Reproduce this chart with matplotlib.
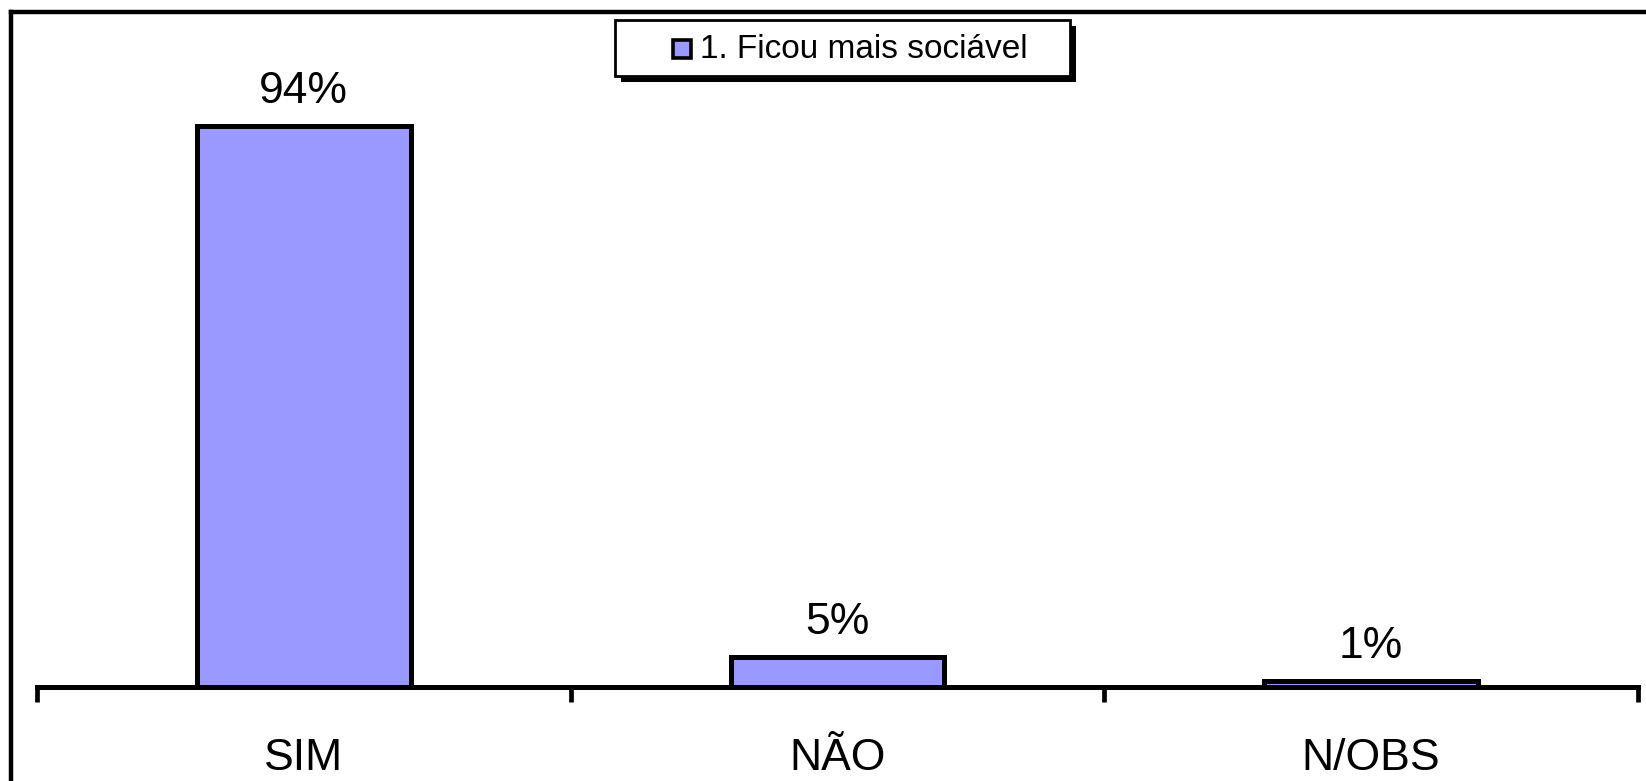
import matplotlib.pyplot as plt
import matplotlib.transforms as mtransforms
from matplotlib.patches import Rectangle
from matplotlib.lines import Line2D

plt.rcParams['font.family'] = ['Liberation Sans', 'DejaVu Sans']

categories = ['SIM', 'NÃO', 'N/OBS']
values = [94, 5, 1]
series_name = '1. Ficou mais sociável'
bar_color = '#9999FF'

W, H = 1646, 781
fig = plt.figure(figsize=(W / 100, H / 100), dpi=100)

# helper: figure pixel (from top-left) -> figure fraction
def fx(x):
    return x / W

def fy(y):
    return 1 - y / H

ax_top, ax_bottom = 90, 687
ax = fig.add_axes([fx(37), fy(ax_bottom), fx(1638) - fx(37), fy(ax_top) - fy(ax_bottom)])

x = list(range(len(categories)))
bars = ax.bar(x, values, width=0.4, color=bar_color, edgecolor='black', linewidth=3.6, zorder=3)

ax.set_xlim(-0.5, len(categories) - 0.5)
ax.set_ylim(0, 100)

for s in ['top', 'right', 'left']:
    ax.spines[s].set_visible(False)
ax.spines['bottom'].set_linewidth(3.6)
ax.spines['bottom'].set_zorder(4)
ax.set_yticks([])

# tick marks at category boundaries, no tick labels (labels placed below by baseline)
ax.set_xticks([i - 0.5 for i in range(len(categories) + 1)])
ax.set_xticklabels([])
ax.tick_params(axis='x', length=11, width=3.4, direction='out')

trans = mtransforms.blended_transform_factory(ax.transData, ax.transAxes)
base_y = (ax_bottom - 770) / (ax_bottom - ax_top)
for xi, cat in zip(x, categories):
    ax.text(xi, base_y, cat, transform=trans, ha='center', va='baseline',
            fontsize=32, clip_on=False)

for b, v in zip(bars, values):
    ax.annotate(f'{v}%', (b.get_x() + b.get_width() / 2, v),
                xytext=(0, 23), textcoords='offset pixels',
                ha='center', va='baseline', fontsize=32)

# legend box with black drop shadow
fig.patches.append(Rectangle((fx(621), fy(82)), fx(1076) - fx(621), fy(26) - fy(82),
                             transform=fig.transFigure, facecolor='black', edgecolor='none'))
fig.patches.append(Rectangle((fx(615), fy(76)), fx(1070) - fx(615), fy(20) - fy(76),
                             transform=fig.transFigure, facecolor='white', edgecolor='black',
                             linewidth=2.0))
fig.patches.append(Rectangle((fx(673), fy(58)), fx(691) - fx(673), fy(40) - fy(58),
                             transform=fig.transFigure, facecolor=bar_color, edgecolor='black',
                             linewidth=2.6))
fig.text(fx(700), fy(49), series_name, fontsize=24, va='center', ha='left')

# outer chart frame (only top and left edges fall inside the image)
fig.add_artist(Line2D([fx(11), fx(11)], [fy(12), -0.05], transform=fig.transFigure,
                      color='black', linewidth=3.2))
fig.add_artist(Line2D([fx(11), 1.05], [fy(12), fy(12)], transform=fig.transFigure,
                      color='black', linewidth=3.2, solid_capstyle='projecting'))

fig.savefig('out.png', dpi=100)
